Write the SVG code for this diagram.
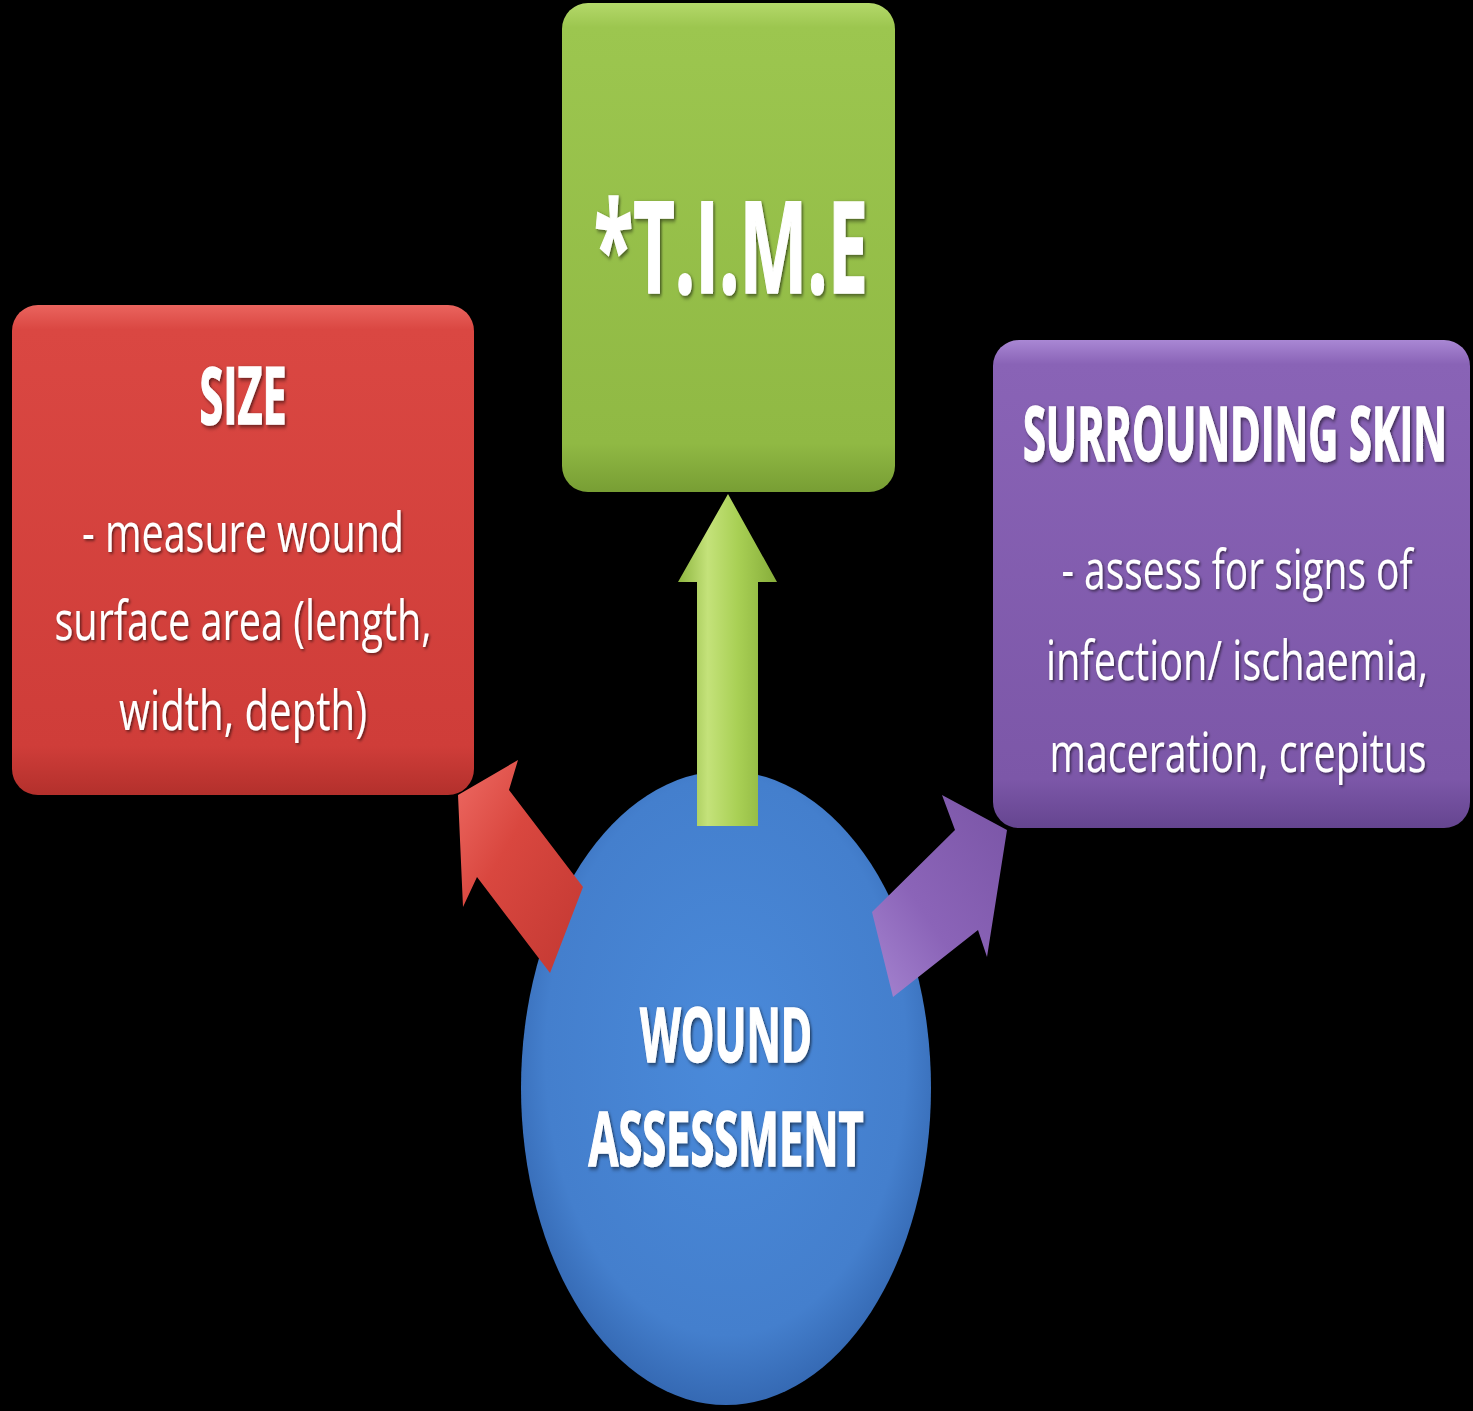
<svg xmlns="http://www.w3.org/2000/svg" width="1473" height="1411" viewBox="0 0 1473 1411">
<defs>
<linearGradient id="gRed" x1="0" y1="0" x2="0" y2="1">
<stop offset="0" stop-color="#EA645E"/><stop offset="0.05" stop-color="#DA4742"/><stop offset="0.9" stop-color="#CF3D39"/><stop offset="1" stop-color="#B3302C"/>
</linearGradient>
<linearGradient id="gGreen" x1="0" y1="0" x2="0" y2="1">
<stop offset="0" stop-color="#B4D86A"/><stop offset="0.05" stop-color="#9CC64F"/><stop offset="0.9" stop-color="#90B944"/><stop offset="1" stop-color="#789E34"/>
</linearGradient>
<linearGradient id="gPurple" x1="0" y1="0" x2="0" y2="1">
<stop offset="0" stop-color="#A987D4"/><stop offset="0.05" stop-color="#8963B6"/><stop offset="0.9" stop-color="#7C57A8"/><stop offset="1" stop-color="#654590"/>
</linearGradient>
<radialGradient id="gBlue" cx="0.5" cy="0.45" r="0.55">
<stop offset="0" stop-color="#4A8ADA"/><stop offset="0.8" stop-color="#447FCD"/><stop offset="1" stop-color="#3569B3"/>
</radialGradient>
<linearGradient id="gArrG" x1="0" y1="0" x2="1" y2="0">
<stop offset="0" stop-color="#8DB53F"/><stop offset="0.3" stop-color="#C4E27A"/><stop offset="0.6" stop-color="#A9D055"/><stop offset="1" stop-color="#86AD3A"/>
</linearGradient>
<linearGradient id="gArrR" x1="0" y1="0" x2="1" y2="1">
<stop offset="0" stop-color="#EE6A63"/><stop offset="0.4" stop-color="#D9473F"/><stop offset="1" stop-color="#C23832"/>
</linearGradient>
<linearGradient id="gArrP" x1="0" y1="1" x2="1" y2="0">
<stop offset="0" stop-color="#A584D0"/><stop offset="0.4" stop-color="#8B64B8"/><stop offset="1" stop-color="#7A55A6"/>
</linearGradient>
<filter id="ts" x="-10%" y="-20%" width="120%" height="140%">
<feDropShadow dx="1.5" dy="1.2" stdDeviation="1.2" flood-color="#000" flood-opacity="0.55"/>
</filter>
</defs>
<style>
.h{font-family:"Open Sans","Noto Sans","Liberation Sans",sans-serif;font-weight:bold;fill:#FFFFFF;stroke:#FFFFFF;stroke-width:0.9;text-anchor:middle;filter:url(#ts)}
.b{font-family:"Open Sans","Noto Sans","Liberation Sans",sans-serif;font-weight:normal;fill:#FFFFFF;text-anchor:middle;filter:url(#ts)}
</style>
<rect width="1473" height="1411" fill="#000000"/>

<g id="wound-assessment">
<ellipse cx="726" cy="1088" rx="205" ry="317" fill="url(#gBlue)"/>
<text class="h" transform="translate(726,1062) scale(1,1.786)" font-size="42.6" textLength="172" lengthAdjust="spacingAndGlyphs">WOUND</text>
<text class="h" transform="translate(726,1166) scale(1,1.786)" font-size="42.6" textLength="275" lengthAdjust="spacingAndGlyphs">ASSESSMENT</text>
</g>

<g id="connectors">
<polygon id="arrow-time" points="728,494 777,582 758,582 758,826 697,826 697,582 678,582" fill="url(#gArrG)"/>
<polygon id="arrow-size" points="458,795 518,760 509,790 583,887 550,973 477,877 463,907" fill="url(#gArrR)"/>
<polygon id="arrow-skin" points="1007,830 987,957 978,930 893,997 872,912 955,830 942,795" fill="url(#gArrP)"/>
</g>

<g id="time">
<rect x="562" y="3" width="333" height="489" rx="26" fill="url(#gGreen)"/>
<text class="h" transform="translate(731,293) scale(1,1.786)" font-size="71.7" textLength="274" lengthAdjust="spacingAndGlyphs">*T.I.M.E</text>
</g>

<g id="size">
<rect x="12" y="305" width="462" height="490" rx="26" fill="url(#gRed)"/>
<text class="h" transform="translate(243,424) scale(1,1.786)" font-size="43.7" textLength="87" lengthAdjust="spacingAndGlyphs">SIZE</text>
<text class="b" transform="translate(243,552) scale(1,1.37)" font-size="39.5" textLength="322" lengthAdjust="spacingAndGlyphs">- measure wound</text>
<text class="b" transform="translate(243,640) scale(1,1.37)" font-size="39.5" textLength="377" lengthAdjust="spacingAndGlyphs">surface area (length,</text>
<text class="b" transform="translate(243,730) scale(1,1.37)" font-size="39.5" textLength="248" lengthAdjust="spacingAndGlyphs">width, depth)</text>
</g>

<g id="surrounding-skin">
<rect x="993" y="340" width="477" height="488" rx="26" fill="url(#gPurple)"/>
<text class="h" transform="translate(1235,461) scale(1,1.786)" font-size="42.6" textLength="424" lengthAdjust="spacingAndGlyphs">SURROUNDING SKIN</text>
<text class="b" transform="translate(1237,589) scale(1,1.37)" font-size="39.5" textLength="351" lengthAdjust="spacingAndGlyphs">- assess for signs of</text>
<text class="b" transform="translate(1237,680) scale(1,1.37)" font-size="39.5" textLength="382" lengthAdjust="spacingAndGlyphs">infection/ ischaemia,</text>
<text class="b" transform="translate(1238,772) scale(1,1.37)" font-size="39.5" textLength="377" lengthAdjust="spacingAndGlyphs">maceration, crepitus</text>
</g>
</svg>
